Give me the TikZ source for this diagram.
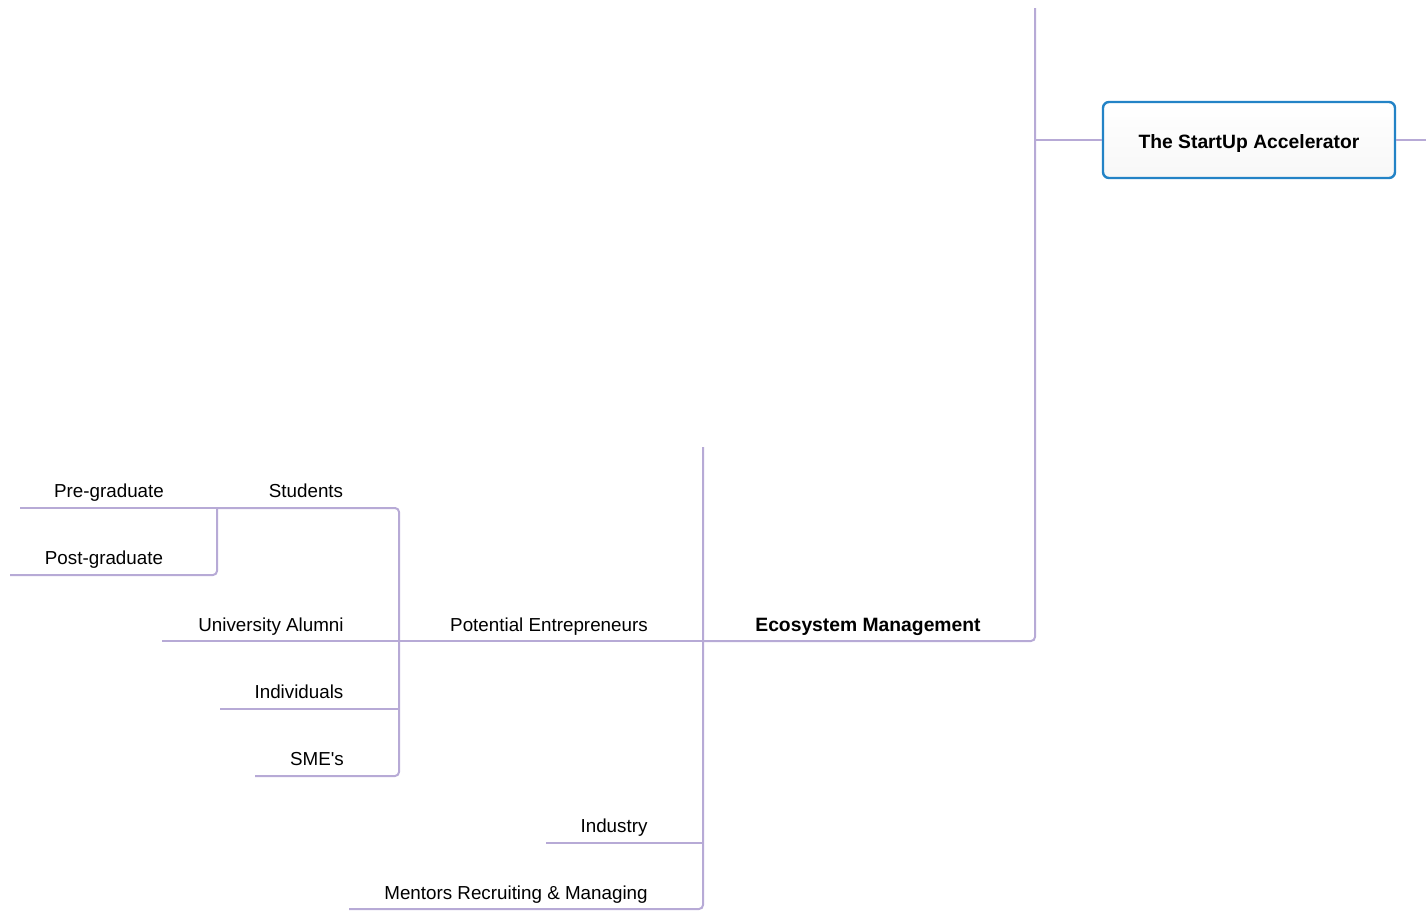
\documentclass[tikz,border=0pt]{standalone}
\usepackage{fontspec}
\setmainfont{Liberation Sans}
\begin{document}
\begin{tikzpicture}[x=1pt,y=-1pt,
  conn/.style={draw=linec,line width=2pt,rounded corners=4pt},
  lbl/.style={font=\fontsize{18.8}{21}\selectfont,inner sep=0pt,anchor=base},
  blbl/.style={font=\fontsize{19.3}{21}\selectfont\bfseries,inner sep=0pt,anchor=base},
  rootbox/.style={draw=boxc,line width=2.4pt,rounded corners=6pt,minimum width=292pt,minimum height=76pt,top color=white,bottom color=gray!6,text height=16pt,text depth=0pt,font=\fontsize{19.3}{21}\selectfont\bfseries}]
\definecolor{linec}{HTML}{B7AAD6}
\definecolor{boxc}{HTML}{2383C6}
\useasboundingbox (0,0) rectangle (1426,910);
% coordinates
\coordinate (trunkTop) at (1035,8);
\coordinate (trunkBr) at (1035,140);
\coordinate (rightEnd) at (1426,140);
\coordinate (ecoJ) at (703,641);
\coordinate (ecoTop) at (703,447);
\coordinate (indL) at (546,843);
\coordinate (indJ) at (703,843);
\coordinate (menL) at (349,909);
\coordinate (peJ) at (399,641);
\coordinate (uaL) at (162,641);
\coordinate (stJ) at (217,508);
\coordinate (preL) at (20,508);
\coordinate (postL) at (10,575);
\coordinate (indivL) at (220,709);
\coordinate (indivJ) at (399,709);
\coordinate (smeL) at (255,776);
\coordinate (smeC) at (399,776);
\coordinate (stC) at (399,508);
% root
\node[rootbox] (root) at (1249,140) {The StartUp Accelerator};
% connectors
\draw[conn] (trunkTop) |- (ecoJ);
\draw[conn] (ecoJ) -- (uaL);
\draw[conn] (trunkBr) -- (root.west);
\draw[conn] (root.east) -- (rightEnd);
\draw[conn] (ecoTop) |- (menL);
\draw[conn] (indJ) -- (indL);
\draw[conn] (stJ) -- (stC) -- (smeC) -- (smeL);
\draw[conn] (preL) -- (stJ);
\draw[conn] (stJ) |- (postL);
\draw[conn] (indivJ) -- (indivL);
% labels
\node[blbl] (eco) at (868,631) {Ecosystem Management};
\node[lbl] (pe) at (549,631) {Potential Entrepreneurs};
\node[lbl] (ind) at (614,832) {Industry};
\node[lbl] (men) at (516,899) {Mentors Recruiting \& Managing};
\node[lbl] (st) at (306,497) {Students};
\node[lbl] (pre) at (109,497) {Pre-graduate};
\node[lbl] (post) at (104,564) {Post-graduate};
\node[lbl] (ua) at (271,631) {University Alumni};
\node[lbl] (indiv) at (299,698) {Individuals};
\node[lbl] (sme) at (317,765) {SME\textquotesingle s};
\end{tikzpicture}
\end{document}
